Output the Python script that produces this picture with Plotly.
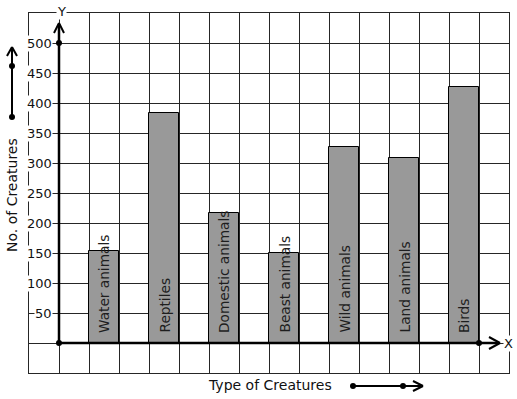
import plotly.graph_objects as go

categories = ["Water animals", "Reptiles", "Domestic animals", "Beast animals",
              "Wild animals", "Land animals", "Birds"]
values = [153, 383, 217, 150, 327, 308, 427]
y_ticks = [50, 100, 150, 200, 250, 300, 350, 400, 450, 500]
x_title = "Type of Creatures"
y_title = "No. of Creatures"

W, H = 517, 399
L, T, PW, PH = 29, 13, 480, 360  # plot area in window pixels
FONT = "DejaVu Sans"
GRID = "#262626"

def px(x):
    return (x - L) / PW

def py(y):
    return (T + PH - y) / PH

xpos = [2 * i + 1.5 for i in range(len(categories))]

fig = go.Figure()
fig.add_trace(go.Bar(
    x=xpos, y=values, width=1,
    marker=dict(color="#999999", line=dict(color="black", width=1)),
    hoverinfo="skip", showlegend=False,
))
fig.add_trace(go.Scatter(
    x=[0, 0, 14], y=[0, 500, 0], mode="markers",
    marker=dict(color="black", size=6), showlegend=False, hoverinfo="skip",
))

annotations = []
for xp, cat in zip(xpos, categories):
    annotations.append(dict(
        x=xp, y=0, xref="x", yref="y", text=cat, showarrow=False,
        textangle=-90, xanchor="center", yanchor="bottom", yshift=9,
        font=dict(family=FONT, size=13.7, color="#1e1e1e"), borderpad=0,
    ))
for v in y_ticks:
    annotations.append(dict(
        x=0, y=v, xref="x", yref="y", text=str(v), showarrow=False,
        xanchor="right", yanchor="middle", xshift=-6,
        font=dict(family=FONT, size=13, color="#111"), bgcolor="white", borderpad=0,
    ))
annotations += [
    dict(x=px(61), y=py(11), xref="paper", yref="paper", text="Y", showarrow=False,
         xanchor="center", yanchor="middle", font=dict(family=FONT, size=13, color="#111"),
         bgcolor="white", borderpad=0),
    dict(x=px(508), y=py(343), xref="paper", yref="paper", text="X", showarrow=False,
         xanchor="center", yanchor="middle", font=dict(family=FONT, size=13, color="#111"),
         bgcolor="white", borderpad=0),
    dict(x=px(269.5), y=py(385), xref="paper", yref="paper", text=x_title, showarrow=False,
         xanchor="center", yanchor="middle", font=dict(family=FONT, size=14, color="#111")),
    dict(x=px(12), y=py(195), xref="paper", yref="paper", text=y_title, showarrow=False,
         textangle=-90, xanchor="center", yanchor="middle",
         font=dict(family=FONT, size=14, color="#111")),
]

def line(x0, y0, x1, y1, w=2.5):
    return dict(type="line", xref="paper", yref="paper", x0=px(x0), y0=py(y0),
                x1=px(x1), y1=py(y1), line=dict(color="black", width=w), layer="above")

def dot(x, y, r=3):
    return dict(type="circle", xref="paper", yref="paper", x0=px(x - r), y0=py(y + r),
                x1=px(x + r), y1=py(y - r), fillcolor="black", line=dict(width=0), layer="above")

shapes = [
    # main axes
    line(59, 343, 59, 24), line(54, 33, 59, 23, 2), line(64, 33, 59, 23, 2),
    line(59, 343, 499, 343), line(489, 337, 500, 343, 2), line(489, 349, 500, 343, 2),
    # y title arrow
    line(12, 117, 12, 48, 2), line(7, 56, 12, 47, 2), line(17, 56, 12, 47, 2),
    dot(12, 117), dot(12, 66),
    # x title arrow
    line(353, 386, 422, 386, 2), line(413, 381, 423, 386, 2), line(413, 391, 423, 386, 2),
    dot(353, 386), dot(403, 386),
]

fig.update_layout(
    width=W, height=H,
    margin=dict(l=L, r=W - L - PW, t=T, b=H - T - PH, pad=0),
    paper_bgcolor="white", plot_bgcolor="white",
    xaxis=dict(range=[-1, 15], tick0=0, dtick=1, showgrid=True, gridcolor=GRID, gridwidth=1,
               showticklabels=False, ticks="", zeroline=False, showline=True,
               linecolor=GRID, linewidth=1, mirror=True, fixedrange=True),
    yaxis=dict(range=[-50, 550], tick0=0, dtick=50, showgrid=True, gridcolor=GRID, gridwidth=1,
               showticklabels=False, ticks="", zeroline=False, showline=True,
               linecolor=GRID, linewidth=1, mirror=True, fixedrange=True),
    annotations=annotations, shapes=shapes, bargap=0, showlegend=False,
)

fig.write_html("out.html", config={"displayModeBar": False},
               post_script="document.body.style.margin='0';document.body.style.overflow='hidden';")
